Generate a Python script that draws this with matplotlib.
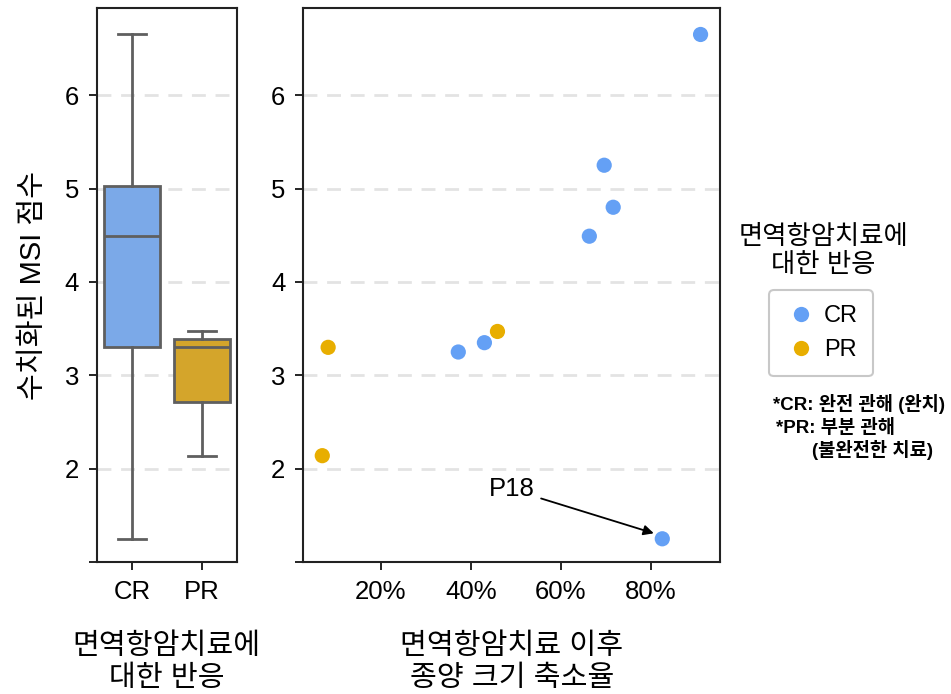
import matplotlib
matplotlib.use("Agg")
import matplotlib.pyplot as plt
import numpy as np
from matplotlib.ticker import PercentFormatter
from matplotlib.lines import Line2D

plt.rcParams['font.family'] = ['Liberation Sans', 'Noto Sans CJK KR']

# 데이터
cr_shrink = [91.0, 69.6, 71.6, 66.3, 43.0, 37.2, 82.5]
cr_msi = [6.65, 5.25, 4.80, 4.49, 3.35, 3.25, 1.25]
pr_shrink = [8.3, 7.0, 45.9]
pr_msi = [3.30, 2.14, 3.47]
groups = ['CR', 'PR']

box_colors = ['#7BA9E8', '#D4A52B']
dot_colors = ['#64A0F5', '#E8AE00']
edge_gray = '#5f5f5f'

fig = plt.figure(figsize=(9.51, 6.94), dpi=100)
ax1 = fig.add_axes([0.102, 0.190, 0.147, 0.798])
ax2 = fig.add_axes([0.319, 0.190, 0.4385, 0.798])

# 박스플롯
bp = ax1.boxplot([cr_msi, pr_msi], positions=[0, 1], widths=0.8,
                 patch_artist=True, whis=np.inf, zorder=3,
                 medianprops=dict(color=edge_gray, linewidth=2),
                 whiskerprops=dict(color=edge_gray, linewidth=2),
                 capprops=dict(color=edge_gray, linewidth=2),
                 boxprops=dict(edgecolor=edge_gray, linewidth=2))
for patch, c in zip(bp['boxes'], box_colors):
    patch.set_facecolor(c)
for cap in bp['caps']:
    m = cap.get_xdata().mean()
    cap.set_xdata([m - 0.2, m + 0.2])
ax1.set_xlim(-0.5, 1.5)
ax1.set_xticks([0, 1])
ax1.set_xticklabels(groups)

# 산점도
ax2.scatter(cr_shrink, cr_msi, s=120, color=dot_colors[0], edgecolors='none', zorder=3)
ax2.scatter(pr_shrink, pr_msi, s=120, color=dot_colors[1], edgecolors='none', zorder=3)
ax2.set_xlim(2.8, 95.4)
ax2.set_xticks([20, 40, 60, 80])
ax2.xaxis.set_major_formatter(PercentFormatter(100, decimals=0))
ax2.annotate('P18', xy=(cr_shrink[6] - 1.3, cr_msi[6] + 0.05), xytext=(49.0, 1.78),
             fontsize=18.5, ha='center', va='center',
             arrowprops=dict(arrowstyle='-|>', color='black', lw=1.3,
                             shrinkA=3, shrinkB=2, mutation_scale=15))

for ax in (ax1, ax2):
    ax.set_ylim(1.0, 6.93)
    ax.set_yticks([1, 2, 3, 4, 5, 6])
    ax.set_yticklabels(['', '2', '3', '4', '5', '6'])
    ax.tick_params(labelsize=18.5, length=6, width=1.2, pad=7)
    for y in [2, 3, 4, 5, 6]:
        ax.axhline(y, color='#e3e3e3', linestyle=(0, (5, 3.5)), linewidth=2, zorder=1)
    for s in ax.spines.values():
        s.set_linewidth(1.5)
        s.set_color('#222222')

ax1.set_ylabel('수치화된 MSI 점수', fontsize=21, labelpad=13)
ax1.set_xlabel('면역항암치료에\n대한 반응', fontsize=21, labelpad=20, linespacing=1.2)
ax2.set_xlabel('면역항암치료 이후\n종양 크기 축소율', fontsize=21, labelpad=20, linespacing=1.2)

# 범례
fig.text(0.866, 0.638, '면역항암치료에\n대한 반응', fontsize=19, ha='center', va='center',
         linespacing=1.2)
handles = [Line2D([], [], marker='o', linestyle='none', markersize=11,
                  markerfacecolor=c, markeredgecolor='none') for c in dot_colors]
leg = fig.legend(handles, groups, loc='center', bbox_to_anchor=(0.8635, 0.52),
                 fontsize=17, frameon=True, fancybox=True, handletextpad=0.25,
                 borderpad=0.65, labelspacing=0.5, handlelength=1.4, borderaxespad=0)
leg.get_frame().set_edgecolor('#bbbbbb')
leg.get_frame().set_linewidth(1.5)

fig.text(0.813, 0.418, '*CR: 완전 관해 (완치)', fontsize=13.5, fontweight='bold', ha='left', va='center')
fig.text(0.816, 0.384, '*PR: 부분 관해', fontsize=13.5, fontweight='bold', ha='left', va='center')
fig.text(0.854, 0.351, '(불완전한 치료)', fontsize=13.5, fontweight='bold', ha='left', va='center')

fig.savefig('out.png', dpi=100)
